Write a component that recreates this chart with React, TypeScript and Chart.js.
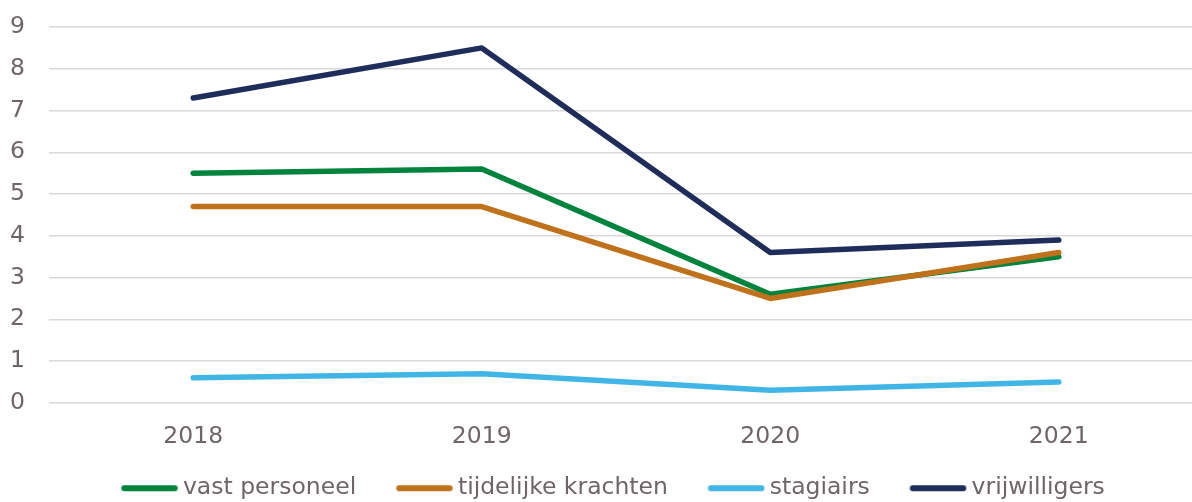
import React, { useEffect, useRef } from 'react';
import { Chart, registerables } from 'chart.js';

Chart.register(...registerables);

const categories = ['2018', '2019', '2020', '2021'];
const seriesNames = ['vast personeel', 'tijdelijke krachten', 'stagiairs', 'vrijwilligers'];
const vastPersoneel = [5.5, 5.6, 2.6, 3.5];
const tijdelijkeKrachten = [4.7, 4.7, 2.5, 3.6];
const stagiairs = [0.6, 0.7, 0.3, 0.5];
const vrijwilligers = [7.3, 8.5, 3.6, 3.9];
const seriesColors = ['#00843D', '#C0711B', '#41B6E6', '#1F2D5B'];
const yMin = 0;
const yMax = 9;
const yStep = 1;

const TEXT = '#6e6567';
const FONT = '"DejaVu Sans", Verdana, sans-serif';
const FS = 23.5;

function legendLine(color: string): HTMLCanvasElement {
  const c = document.createElement('canvas');
  c.width = 84;
  c.height = 10;
  const ctx = c.getContext('2d')!;
  ctx.strokeStyle = color;
  ctx.lineWidth = 6;
  ctx.lineCap = 'round';
  ctx.beginPath();
  ctx.moveTo(26.5, 5);
  ctx.lineTo(77, 5);
  ctx.stroke();
  return c;
}

export default function App() {
  const ref = useRef<HTMLCanvasElement | null>(null);

  useEffect(() => {
    if (!ref.current) return;
    const values = [vastPersoneel, tijdelijkeKrachten, stagiairs, vrijwilligers];
    const images = seriesColors.map(legendLine);
    const chart = new Chart(ref.current, {
      type: 'line',
      data: {
        labels: categories,
        datasets: seriesNames.map((name, i) => ({
          label: name,
          data: values[i],
          borderColor: seriesColors[i],
          backgroundColor: seriesColors[i],
          borderWidth: 5.5,
          borderCapStyle: 'round' as const,
          borderJoinStyle: 'round' as const,
          pointRadius: 0,
          pointHoverRadius: 0,
          tension: 0,
          fill: false,
          order: seriesNames.length - 1 - i,
        })),
      },
      options: {
        animation: false,
        responsive: false,
        events: [],
        layout: { padding: { top: 27, left: 10, right: 0, bottom: 0 } },
        scales: {
          x: {
            type: 'category',
            offset: true,
            grid: { display: false, drawTicks: false },
            border: { display: false },
            ticks: {
              color: TEXT,
              font: { family: FONT, size: FS },
              padding: 20,
              maxRotation: 0,
            },
            afterFit: (scale: any) => {
              scale.height = 46.6;
            },
          },
          y: {
            min: yMin,
            max: yMax,
            grid: { color: '#d9d9d9', lineWidth: 1.5, drawTicks: false },
            border: { display: false },
            ticks: {
              stepSize: yStep,
              color: TEXT,
              font: { family: FONT, size: FS },
              padding: 0,
              crossAlign: 'far',
            },
            afterFit: (scale: any) => {
              scale.width = 39;
            },
          },
        },
        plugins: {
          tooltip: { enabled: false },
          legend: {
            position: 'bottom',
            labels: {
              color: TEXT,
              font: { family: FONT, size: FS },
              usePointStyle: true,
              pointStyleWidth: 63,
              padding: 27,
              generateLabels: (ch: any) => {
                const base = Chart.defaults.plugins.legend.labels.generateLabels(ch);
                return base
                  .sort((a: any, b: any) => a.datasetIndex - b.datasetIndex)
                  .map((item: any) => ({ ...item, pointStyle: images[item.datasetIndex] }));
              },
            },
          },
        },
      },
    });
    return () => chart.destroy();
  }, []);

  return (
    <div style={{ position: 'absolute', left: 0, top: 0, width: 1192, height: 502, overflow: 'hidden', background: '#fff' }}>
      <canvas ref={ref} width={1203} height={510} style={{ display: 'block' }} />
    </div>
  );
}
